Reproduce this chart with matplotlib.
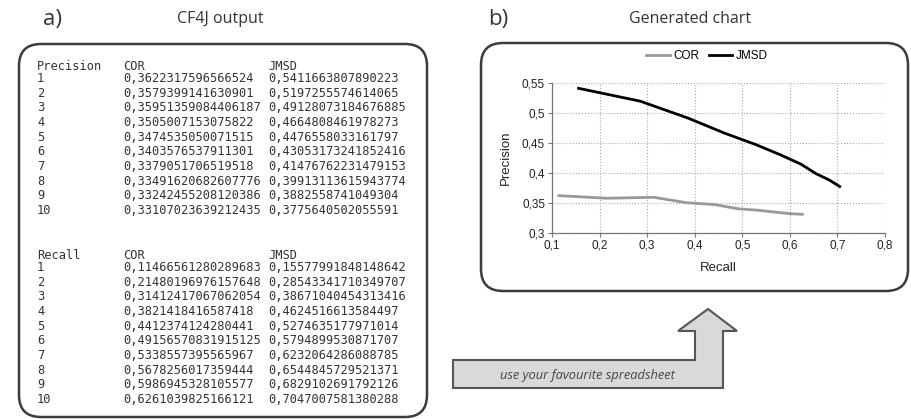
import numpy as np
import matplotlib
matplotlib.use("Agg")
import matplotlib.pyplot as plt
from matplotlib.patches import FancyBboxPatch, Polygon

# values as printed by CF4J (decimal comma)
precision_cor = ["0,3622317596566524", "0,3579399141630901", "0,35951359084406187",
                 "0,3505007153075822", "0,3474535050071515", "0,3403576537911301",
                 "0,3379051706519518", "0,33491620682607776", "0,33242455208120386",
                 "0,33107023639212435"]
precision_jmsd = ["0,5411663807890223", "0,5197255574614065", "0,49128073184676885",
                  "0,4664808461978273", "0,4476558033161797", "0,43053173241852416",
                  "0,41476762231479153", "0,39913113615943774", "0,3882558741049304",
                  "0,3775640502055591"]
recall_cor = ["0,11466561280289683", "0,21480196976157648", "0,31412417067062054",
              "0,3821418416587418", "0,4412374124280441", "0,49156570831915125",
              "0,5338557395565967", "0,5678256017359444", "0,5986945328105577",
              "0,6261039825166121"]
recall_jmsd = ["0,15577991848148642", "0,28543341710349707", "0,38671040454313416",
               "0,4624516613584497", "0,5274635177971014", "0,5794899530871707",
               "0,6232064286088785", "0,6544845729521371", "0,6829102691792126",
               "0,7047007581380288"]
n_values = list(range(1, 11))

x_ticks = [0.1, 0.2, 0.3, 0.4, 0.5, 0.6, 0.7, 0.8]
y_ticks = [0.3, 0.35, 0.4, 0.45, 0.5, 0.55]


def _num(strs):
    return np.array([float(s.replace(",", ".")) for s in strs])


def _lab(v):
    return f"{v:g}".replace(".", ",")


W, H = 911, 419
fig = plt.figure(figsize=(W / 100, H / 100), dpi=100)

# ── canvas in pixel coordinates ─────────────────────────────────────────────
bg = fig.add_axes([0, 0, 1, 1], zorder=0)
bg.set_xlim(0, W)
bg.set_ylim(H, 0)
bg.axis("off")

head_font = "Open Sans"
edge = "#3c3c3c"

bg.text(52, 19, "a)", fontsize=16, family=head_font, color="#333333", ha="center", va="center")
bg.text(220, 19, "CF4J output", fontsize=11.5, family=head_font, color="#333333", ha="center", va="center")
bg.text(498, 19, "b)", fontsize=16, family=head_font, color="#333333", ha="center", va="center")
bg.text(690, 19, "Generated chart", fontsize=11.5, family=head_font, color="#333333", ha="center", va="center")

for x0, y0, x1, y1 in [(19, 44, 427, 417), (481, 43, 908, 291)]:
    bg.add_patch(FancyBboxPatch((x0, y0), x1 - x0, y1 - y0,
                                boxstyle="round,pad=0,rounding_size=22",
                                fc="white", ec=edge, lw=1.8))

# CF4J text output
mono = dict(family="DejaVu Sans Mono", fontsize=8.65, color="#333333", va="center")
col_x = [37, 123, 268]
blocks = [("Precision", 66, precision_cor, precision_jmsd),
          ("Recall", 255, recall_cor, recall_jmsd)]
step = 14.65
for title, y0, cor, jmsd in blocks:
    bg.text(col_x[0], y0, title, **mono)
    bg.text(col_x[1], y0, "COR", **mono)
    bg.text(col_x[2], y0, "JMSD", **mono)
    for i, n in enumerate(n_values):
        y = y0 + 12.5 + i * step
        bg.text(col_x[0], y, str(n), **mono)
        bg.text(col_x[1], y, cor[i], **mono)
        bg.text(col_x[2], y, jmsd[i], **mono)

# arrow
arrow = [(453, 360), (695, 360), (695, 331), (678, 331), (708, 309), (737, 331),
         (723, 331), (723, 388), (453, 388)]
bg.add_patch(Polygon(arrow, closed=True, fc="#d9d9d9", ec="#555555", lw=1.5))
bg.text(587, 375, "use your favourite spreadsheet", fontsize=9.3, family=head_font,
        style="italic", color="#444444", ha="center", va="center")

# ── generated chart ─────────────────────────────────────────────────────────
ax = fig.add_axes([552 / W, 1 - 233 / H, (885 - 552) / W, (233 - 83) / H], zorder=2)
ax.set_facecolor("none")

ax.plot(_num(recall_cor), _num(precision_cor), color="#999999", lw=2, label="COR")
ax.plot(_num(recall_jmsd), _num(precision_jmsd), color="black", lw=2, label="JMSD")

ax.set_xlim(0.1, 0.8)
ax.set_ylim(0.3, 0.55)
ax.set_xticks(x_ticks)
ax.set_yticks(y_ticks)
ax.set_xticklabels([_lab(v) for v in x_ticks])
ax.set_yticklabels([_lab(v) for v in y_ticks])
for lbl in ax.get_xticklabels() + ax.get_yticklabels():
    lbl.set_family("Liberation Sans")
    lbl.set_fontsize(8.5)
    lbl.set_color("#222222")
ax.tick_params(length=3, width=0.8, color="#777777", pad=2)

ax.grid(True, linestyle=":", color="#aaaaaa", lw=0.8)
for s in ["top", "right"]:
    ax.spines[s].set_visible(False)
for s in ["left", "bottom"]:
    ax.spines[s].set_color("#777777")
    ax.spines[s].set_linewidth(0.9)

ax.set_xlabel("Recall", family="Liberation Sans", fontsize=9.5, color="#222222", labelpad=7)
ax.set_ylabel("Precision", family="Liberation Sans", fontsize=9.5, color="#222222", labelpad=7)

ax.legend(loc="center", bbox_to_anchor=(707 / W, 1 - 56 / H), bbox_transform=fig.transFigure,
          ncol=2, frameon=False, handlelength=2.0, handletextpad=0.3, columnspacing=0.8,
          prop={"family": "Liberation Sans", "size": 8.5})

fig.savefig("out.png", dpi=100)
